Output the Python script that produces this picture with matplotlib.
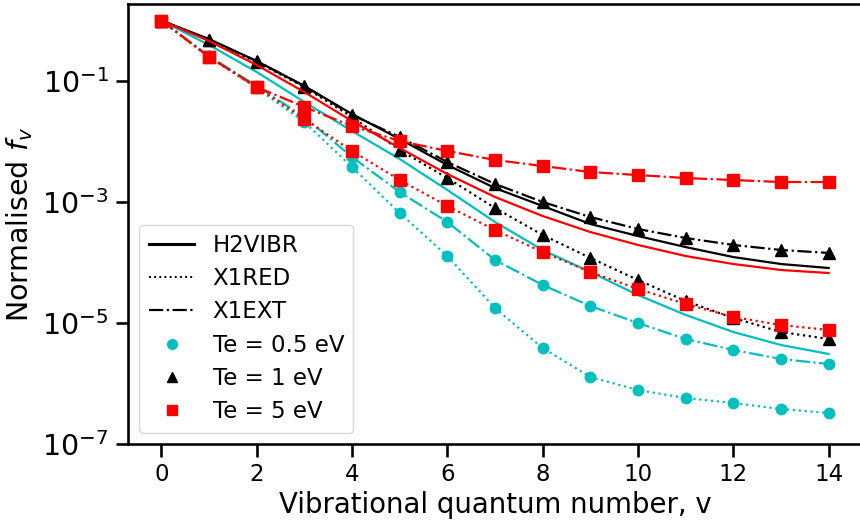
import matplotlib
matplotlib.use("Agg")
import matplotlib.pyplot as plt
from matplotlib.lines import Line2D
import numpy as np

v = list(range(15))

# Te = 0.5 eV
h2vibr_05 = [1, 0.394, 0.141, 0.0450, 0.0149, 0.00514, 0.00158, 4.67e-4, 1.61e-4, 6.97e-5, 2.90e-5, 1.36e-5, 7.10e-6, 4.33e-6, 3.08e-6]
x1red_05 = [1, 0.250, 0.0766, 0.0210, 0.00379, 6.58e-4, 1.28e-4, 1.77e-5, 3.86e-6, 1.28e-6, 7.81e-7, 5.75e-7, 4.76e-7, 3.79e-7, 3.25e-7]
x1ext_05 = [1, 0.259, 0.0827, 0.0254, 0.00554, 0.00146, 4.67e-4, 1.10e-4, 4.25e-5, 1.91e-5, 1.0e-5, 5.44e-6, 3.58e-6, 2.54e-6, 2.10e-6]

# Te = 1 eV
h2vibr_1 = [1, 0.494, 0.214, 0.0827, 0.0285, 0.0110, 0.00409, 0.00170, 8.59e-4, 4.33e-4, 2.74e-4, 1.80e-4, 1.23e-4, 9.44e-5, 8.11e-5]
x1red_1 = [1, 0.477, 0.206, 0.0796, 0.0254, 0.00724, 0.00249, 7.96e-4, 2.85e-4, 1.19e-4, 5.14e-5, 2.31e-5, 1.21e-5, 7.10e-6, 5.44e-6]
x1ext_1 = [1, 0.477, 0.214, 0.0827, 0.0274, 0.0119, 0.00458, 0.00199, 1.0e-3, 5.65e-4, 3.58e-4, 2.54e-4, 1.95e-4, 1.61e-4, 1.44e-4]

# Te = 5 eV
h2vibr_5 = [1, 0.458, 0.184, 0.0658, 0.0218, 0.00781, 0.00290, 0.00121, 5.87e-4, 3.19e-4, 1.95e-4, 1.28e-4, 9.44e-5, 7.52e-5, 6.70e-5]
x1red_5 = [1, 0.250, 0.0796, 0.0236, 0.00697, 0.00231, 8.59e-4, 3.44e-4, 1.49e-4, 6.97e-5, 3.65e-5, 2.06e-5, 1.26e-5, 9.27e-6, 7.66e-6]
x1ext_5 = [1, 0.250, 0.0796, 0.0372, 0.0180, 0.0102, 0.00697, 0.00495, 0.00394, 0.00313, 0.00279, 0.00249, 0.00231, 0.00214, 0.00214]

temps = ["Te = 0.5 eV", "Te = 1 eV", "Te = 5 eV"]
models = ["H2VIBR", "X1RED", "X1EXT"]
colors = ["c", "k", "r"]
markers = ["o", "^", "s"]
msizes = [7.5, 8, 8]
series = [(h2vibr_05, x1red_05, x1ext_05),
          (h2vibr_1, x1red_1, x1ext_1),
          (h2vibr_5, x1red_5, x1ext_5)]

plt.rcParams['font.family'] = ['DejaVu Sans']
fig = plt.figure(figsize=(8.6, 5.24), dpi=100)
ax = fig.add_axes([128/860, 80/524, 734/860, 440/524])

lw = 1.6
for (h, r, e), c, m, ms in zip(series, colors, markers, msizes):
    ax.plot(v, h, color=c, ls='-', lw=lw)
    ax.plot(v, r, color=c, ls=':', lw=lw, marker=m, ms=ms)
    ax.plot(v, e, color=c, ls='-.', lw=lw, marker=m, ms=ms)

ax.set_yscale('log')
ax.set_xlim(-0.7, 14.7)
ax.set_ylim(1e-7, 10**0.273)
ax.set_yticks([1e-7, 1e-5, 1e-3, 1e-1])
ax.yaxis.set_minor_locator(matplotlib.ticker.NullLocator())
ax.set_xticks([0, 2, 4, 6, 8, 10, 12, 14])

for s in ax.spines.values():
    s.set_linewidth(1.875)
ax.spines['right'].set_visible(False)
ax.tick_params(axis='both', which='major', length=9, width=1.875, pad=5)
ax.tick_params(axis='x', labelsize=16.5)
ax.tick_params(axis='y', labelsize=20.5)

ax.set_xlabel("Vibrational quantum number, v", fontsize=19.8, labelpad=3)
ax.set_ylabel("Normalised $f_v$", fontsize=20.5, labelpad=5)

handles = [
    Line2D([], [], color='k', ls='-', lw=2.2),
    Line2D([], [], color='k', ls=':', lw=1.4),
    Line2D([], [], color='k', ls='-.', lw=1.6),
    Line2D([], [], color='c', ls='none', marker='o', ms=7),
    Line2D([], [], color='k', ls='none', marker='^', ms=7),
    Line2D([], [], color='r', ls='none', marker='s', ms=7),
]
labels = models + temps
ax.legend(handles, labels, loc='lower left',
          fontsize=16.5, frameon=True, framealpha=1.0, edgecolor='#d9d9d9',
          labelspacing=0.45, borderpad=0.4, handlelength=2.0)

fig.savefig("out.png", dpi=100)
